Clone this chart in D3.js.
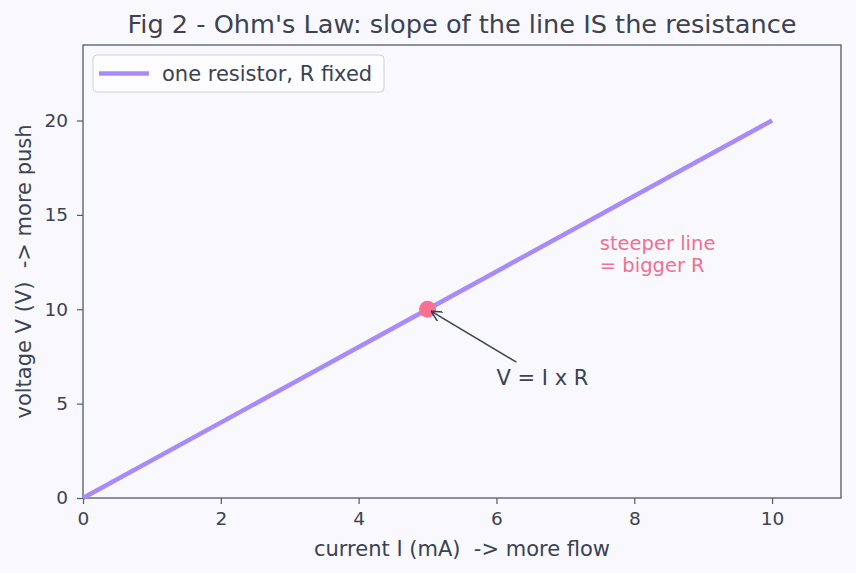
<!DOCTYPE html>
<html>
<head>
<meta charset="utf-8">
<script src="https://cdn.jsdelivr.net/npm/d3@7"></script>
<style>
  body { margin: 0; background: #f9f9fd; }
  svg { display: block; font-family: "DejaVu Sans", sans-serif; }
</style>
</head>
<body>
<div id="chart"></div>
<script>
const W = 856, H = 573;
const marginLeft = 83, marginRight = 15, marginTop = 45, marginBottom = 75;
const ink = "#3b4252";

// data
const currentMA = [0, 10];
const voltageV = [0, 20];
const pointI = [5];
const pointV = [10];
const xTicks = [0, 2, 4, 6, 8, 10];
const yTicks = [0, 5, 10, 15, 20];

const svg = d3.select("#chart").append("svg")
    .attr("width", W)
    .attr("height", H);

svg.append("rect").attr("width", W).attr("height", H).attr("fill", "#f9f9fd");

const x = d3.scaleLinear().domain([0, 11]).range([marginLeft, W - marginRight]);
const y = d3.scaleLinear().domain([0, 24]).range([H - marginBottom, marginTop]);

const xAxis = svg.append("g")
    .attr("transform", `translate(0,${H - marginBottom})`)
    .call(d3.axisBottom(x).tickValues(xTicks).tickSize(6).tickPadding(8).tickFormat(d3.format("d")));
const yAxis = svg.append("g")
    .attr("transform", `translate(${marginLeft},0)`)
    .call(d3.axisLeft(y).tickValues(yTicks).tickSize(6).tickPadding(9).tickFormat(d3.format("d")));

[xAxis, yAxis].forEach(g => {
    g.select(".domain").remove();
    g.selectAll("line").attr("stroke", "#555a66").attr("stroke-width", 1.2);
    g.selectAll("text").attr("fill", ink).style("font-size", "18.5px").style("font-family", "DejaVu Sans");
});

// frame
svg.append("rect")
    .attr("x", x(0)).attr("y", y(24))
    .attr("width", x(11) - x(0)).attr("height", y(0) - y(24))
    .attr("fill", "none").attr("stroke", "#555a66").attr("stroke-width", 1.3);

const line = d3.line().x((d, i) => x(currentMA[i])).y(d => y(d));
svg.append("path")
    .datum(voltageV)
    .attr("d", line)
    .attr("fill", "none")
    .attr("stroke", "#a78bfa")
    .attr("stroke-width", 4.5);

svg.selectAll(".pt")
    .data(pointI)
    .enter().append("circle")
    .attr("cx", d => x(d))
    .attr("cy", (d, i) => y(pointV[i]))
    .attr("r", 8.5)
    .attr("fill", "#f87190");

// annotation arrow
svg.append("defs").append("marker")
    .attr("id", "arr").attr("viewBox", "0 0 10 10")
    .attr("refX", 10).attr("refY", 5)
    .attr("markerWidth", 11).attr("markerHeight", 11)
    .attr("markerUnits", "userSpaceOnUse")
    .attr("orient", "auto")
    .append("path").attr("d", "M0,0 L10,5 L0,10").attr("fill", "none")
    .attr("stroke", ink).attr("stroke-width", 1.4);

svg.append("line")
    .attr("x1", x(6.29)).attr("y1", y(7.2))
    .attr("x2", x(5.05)).attr("y2", y(9.9))
    .attr("stroke", ink).attr("stroke-width", 1.5)
    .attr("marker-end", "url(#arr)");

svg.append("text")
    .attr("x", x(6)).attr("y", y(6))
    .attr("fill", ink)
    .style("font-size", "21px")
    .text("V = I x R");

svg.append("text")
    .attr("fill", "#f07090")
    .style("font-size", "19.5px")
    .selectAll("tspan")
    .data(["steeper line", "= bigger R"])
    .enter().append("tspan")
    .attr("x", x(7.5))
    .attr("y", (d, i) => y(12) - (1 - i) * 22)
    .text(d => d);

// legend
const lg = svg.append("g").attr("transform", "translate(93,55)");
lg.append("rect").attr("width", 291).attr("height", 37).attr("rx", 4)
    .attr("fill", "#fdfdff").attr("stroke", "#cfd0d6");
lg.append("line").attr("x1", 6).attr("x2", 56).attr("y1", 18.5).attr("y2", 18.5)
    .attr("stroke", "#a78bfa").attr("stroke-width", 4.5);
lg.append("text").attr("x", 69).attr("y", 18.5).attr("dy", "0.35em")
    .attr("fill", ink).style("font-size", "21px").text("one resistor, R fixed");

// title and labels
svg.append("text")
    .attr("x", (x(0) + x(11)) / 2).attr("y", 24)
    .attr("dy", "0.35em")
    .attr("text-anchor", "middle")
    .attr("fill", ink)
    .style("font-size", "25.6px")
    .text("Fig 2 - Ohm's Law: slope of the line IS the resistance");

svg.append("text")
    .attr("x", (x(0) + x(11)) / 2).attr("y", 549)
    .attr("dy", "0.35em")
    .attr("text-anchor", "middle")
    .attr("fill", ink)
    .style("font-size", "21px")
    .style("white-space", "pre")
    .text("current I (mA)  -> more flow");

svg.append("text")
    .attr("transform", `translate(24,${(y(0) + y(24)) / 2}) rotate(-90)`)
    .attr("dy", "0.35em")
    .attr("text-anchor", "middle")
    .attr("fill", ink)
    .style("font-size", "21px")
    .style("white-space", "pre")
    .text("voltage V (V)  -> more push");
</script>
</body>
</html>
